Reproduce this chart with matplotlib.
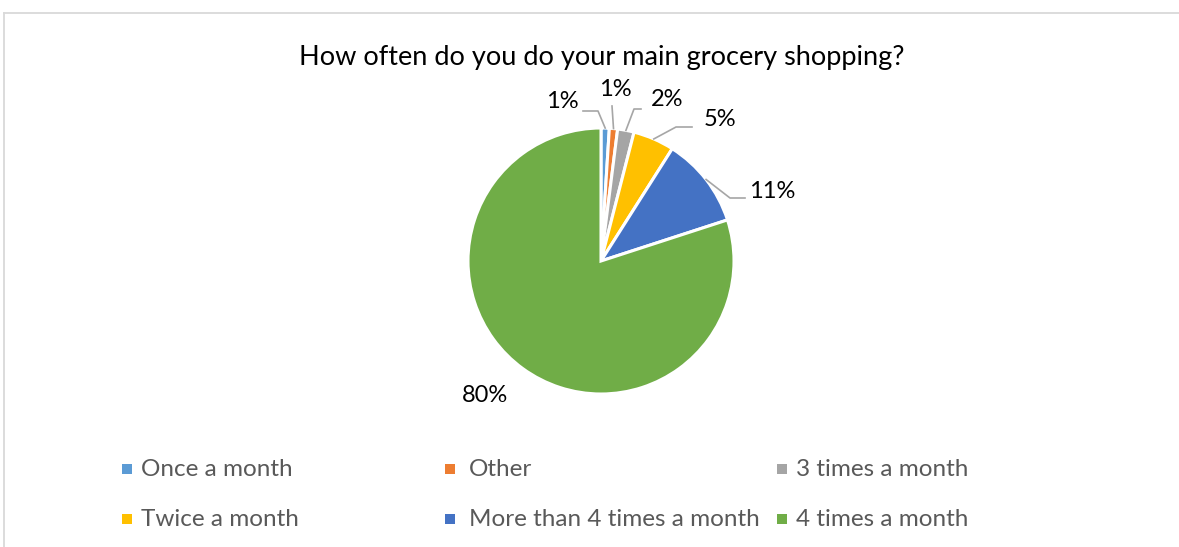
import numpy as np
import matplotlib
matplotlib.use("Agg")
import matplotlib.pyplot as plt
from matplotlib.lines import Line2D

plt.rcParams['font.family'] = ['Lato', 'DejaVu Sans']

# Survey answers (percent)
categories = ["Once a month", "Other", "3 times a month",
              "Twice a month", "More than 4 times a month", "4 times a month"]
shares = [1, 1, 2, 5, 11, 80]
colors = ["#5B9BD5", "#ED7D31", "#A5A5A5", "#FFC000", "#4472C4", "#70AD47"]
title = "How often do you do your main grocery shopping?"

W, H = 1179, 547
fig = plt.figure(figsize=(W / 100, H / 100), dpi=100)
ax = fig.add_axes([0, 0, 1, 1])


def py(y):
    """Convert a top-down pixel row to axis y."""
    return H - y


cx, cy, R = 601, py(261), 133
wedges, _ = ax.pie(shares, colors=colors, startangle=90, counterclock=False,
                   center=(cx, cy), radius=R, frame=True,
                   wedgeprops=dict(edgecolor="white", linewidth=2.2))
ax.set_xlim(0, W)
ax.set_ylim(0, H)
ax.set_aspect('equal')
ax.axis('off')

# chart frame
ax.add_line(Line2D([4, W], [py(13), py(13)], color="#D9D9D9", lw=1.3))
ax.add_line(Line2D([4, 4], [py(13), 0], color="#D9D9D9", lw=1.3))

ax.text(cx + 1, py(57), title, ha="center", va="center", fontsize=19.5,
        color="#000000")

# data labels with leader lines (elbow / end points in pixel rows)
label_layout = [
    # (text x, text y, leader path after the slice edge)
    (562, 102, [(598, 111), (583, 111)]),
    (615, 89, [(612, 106)]),
    (667, 99, [(634, 109), (641, 109)]),
    (720, 119, [(676, 127), (692, 127)]),
    (772, 192, [(730, 198), (745, 198)]),
    (485, 396, None),
]
for w, val, (tx, ty, path) in zip(wedges, shares, label_layout):
    if path is not None:
        mid = np.deg2rad((w.theta1 + w.theta2) / 2)
        sx = cx + R * np.cos(mid)
        sy = cy + R * np.sin(mid)
        xs = [sx] + [p[0] for p in path]
        ys = [sy] + [py(p[1]) for p in path]
        ax.add_line(Line2D(xs, ys, color="#A6A6A6", lw=1.2))
    ax.text(tx, py(ty), f"{val}%", ha="center", va="center",
            fontsize=17, color="#000000")

# legend: (marker x, text x, row)
legend_pos = [(127, 141, 469), (450, 469, 469), (782, 796, 469),
              (127, 141, 519), (450, 469, 519), (782, 796, 519)]
for name, col, (mx, tx, ly) in zip(categories, colors, legend_pos):
    ax.scatter([mx], [py(ly)], marker="s", s=45, color=col, linewidths=0)
    ax.text(tx, py(ly), name, ha="left", va="center", fontsize=17.5,
            color="#595959")

fig.savefig("out.png", dpi=100, facecolor="white")
